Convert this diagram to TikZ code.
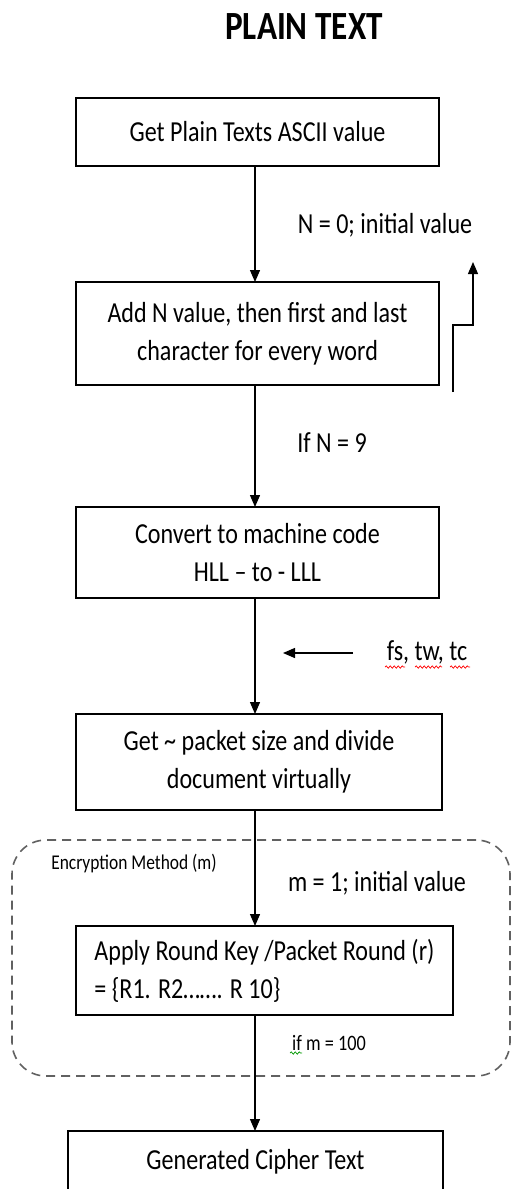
\documentclass[tikz,border=0pt]{standalone}
\usepackage{fontspec}
\setmainfont{Carlito}[FakeStretch=0.83]
\usetikzlibrary{arrows.meta,decorations.pathmorphing}

\begin{document}
\begin{tikzpicture}[x=1pt,y=-1pt,
  every node/.style={inner sep=0pt, outer sep=0pt},
  body/.style={font=\fontsize{29}{38}\selectfont},
  smalltext/.style={font=\fontsize{22}{26}\selectfont},
  stepbox/.style={draw=black, line width=1.4pt, body, align=center},
  flow/.style={line width=1.3pt, -{Triangle[length=12pt,width=10pt]}},
  group/.style={draw=black!62, line width=1.6pt, dash pattern=on 9pt off 6pt, rounded corners=34pt},
  squig/.style={decorate, decoration={snake, amplitude=1.2pt, segment length=4pt}, line width=0.7pt}]

\useasboundingbox (0,0) rectangle (512,1189);
\fill[white] (0,0) rectangle (512,1189);
\clip (0,0) rectangle (512,1189);

% title
\node[font=\fontsize{40}{48}\selectfont\bfseries] (title) at (304,27) {PLAIN TEXT};

% main column of steps
\coordinate (trunk) at (255,0);
\node[stepbox, minimum width=363, minimum height=68] (ascii) at (257.5,132) {Get Plain Texts ASCII value};
\node[stepbox, minimum width=363, minimum height=103] (addn) at (257.5,333.5)
  {Add N value, then first and last\\character for every word};
\node[stepbox, minimum width=363, minimum height=91] (machine) at (257.5,552.5)
  {Convert to machine code\\HLL -- to - LLL};
\node[stepbox, minimum width=366, minimum height=96] (packet) at (259,762)
  {Get \textasciitilde{} packet size and divide\\document virtually};

% encryption loop frame
\node[group, minimum width=498, minimum height=236] (enc) at (261,958) {};
\node[font=\fontsize{21}{25}\selectfont] (enclabel) at (134,863) {Encryption Method (m)};

\node[stepbox, align=left, minimum width=377, minimum height=89] (round) at (264.5,970.5)
  {Apply Round Key /Packet Round (r)\\= \{R1. R2\ldots\ldots. R 10\}};

\node[stepbox, anchor=north, minimum width=375, text height=38pt, text depth=50pt] (cipher) at (255.5,1131)
  {Generated Cipher Text};

% labels
\node[body] (ninit) at (385,225) {N = 0; initial value};
\node[body] (nnine) at (332,443) {If N = 9};
\node[body] (params) at (427,652) {fs, tw, tc};
\node[body] (minit) at (377,883) {m = 1; initial value};
\node[smalltext] (mend) at (329,1043) {if m = 100};

% spelling marks under the labels
\draw[squig, red] (385,667) -- (405,667);
\draw[squig, red] (415,667) -- (442,667);
\draw[squig, red] (450,667) -- (470,667);
\draw[squig, green!60!black] (290,1053) -- (302,1053);

% connectors
\draw[flow] (ascii.south -| trunk) -- (addn.north -| trunk);
\draw[flow] (addn.south -| trunk) -- (machine.north -| trunk);
\draw[flow] (machine.south -| trunk) -- (packet.north -| trunk);
\draw[flow] (packet.south -| trunk) -- (round.north -| trunk);
\draw[flow] (round.south -| trunk) -- (cipher.north -| trunk);

% feedback of N
\coordinate (fbstart) at (453,392);
\coordinate (fbend) at (473,262);
\draw[flow] (fbstart) -- ++(0,-67) -| (fbend);

% parameter input
\coordinate (fstail) at (353,653);
\coordinate (fshead) at (283,653);
\draw[flow] (fstail) -- (fshead);

\end{tikzpicture}
\end{document}
